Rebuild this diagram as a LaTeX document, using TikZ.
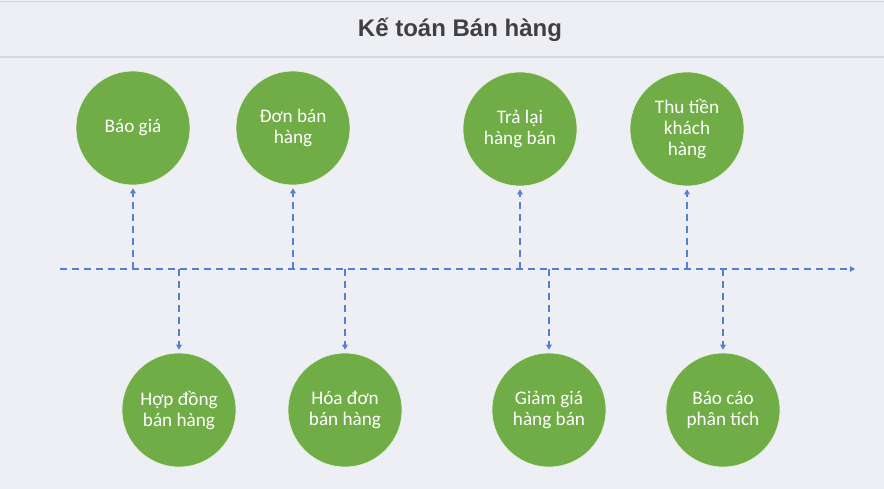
\documentclass[tikz,border=0pt]{standalone}
\usepackage{fontspec}
\setmainfont{Carlito}
\newfontfamily\titlefont{Liberation Sans}
\usetikzlibrary{arrows.meta}
\definecolor{bgc}{RGB}{238,239,245}
\definecolor{rulec}{RGB}{214,215,221}
\definecolor{greenc}{RGB}{112,173,71}
\definecolor{bluec}{RGB}{86,127,210}
\definecolor{titlec}{RGB}{64,64,64}
\begin{document}
\begin{tikzpicture}[x=1pt,y=-1pt,
  bubble/.style={circle,fill=greenc,draw=white!85!greenc,line width=0.6pt,minimum size=114pt,inner sep=0pt,
    text=white,font=\fontsize{19.2}{21}\selectfont,align=center},
  conn/.style={draw=bluec,line width=1.8pt,dash pattern=on 7pt off 5pt,
    -{Triangle[length=5pt,width=5.5pt]},shorten >=3pt}]
\useasboundingbox (0,0) rectangle (884,489);
\fill[bgc] (0,0) rectangle (884,489);
\draw[rulec,line width=1.2pt] (0,1.5) -- (884,1.5);
\draw[rulec,line width=1.2pt] (0,57) -- (884,57);
\node[anchor=base,text=titlec,font=\titlefont\bfseries\fontsize{24}{28}\selectfont] (title) at (460,37) {Kế toán Bán hàng};
% top bubbles
\node[bubble] (t1) at (133,128) {Báo giá};
\node[bubble] (t2) at (293,128) {Đơn bán\\hàng};
\node[bubble] (t3) at (520,129) {Trả lại\\hàng bán};
\node[bubble] (t4) at (687,129) {Thu tiền\\khách\\hàng};
% bottom bubbles
\node[bubble] (b1) at (179,410) {Hợp đồng\\bán hàng};
\node[bubble] (b2) at (345,410) {Hóa đơn\\bán hàng};
\node[bubble] (b3) at (549,410) {Giảm giá\\hàng bán};
\node[bubble] (b4) at (723,410) {Báo cáo\\phân tích};
% axis
\coordinate (L) at (60,269);
\coordinate (R) at (855,269);
\draw[conn,shorten >=0pt] (L) -- (R);
\foreach \n/\x in {t1/133,t2/293,t3/520,t4/687,b1/179,b2/345,b3/549,b4/723}{
  \coordinate (j\n) at (\x,269);
}
\foreach \n in {t1,t2,t3,t4}{ \draw[conn] (j\n) -- (\n.south); }
\foreach \n in {b1,b2,b3,b4}{ \draw[conn] (j\n) -- (\n.north); }
\end{tikzpicture}
\end{document}
